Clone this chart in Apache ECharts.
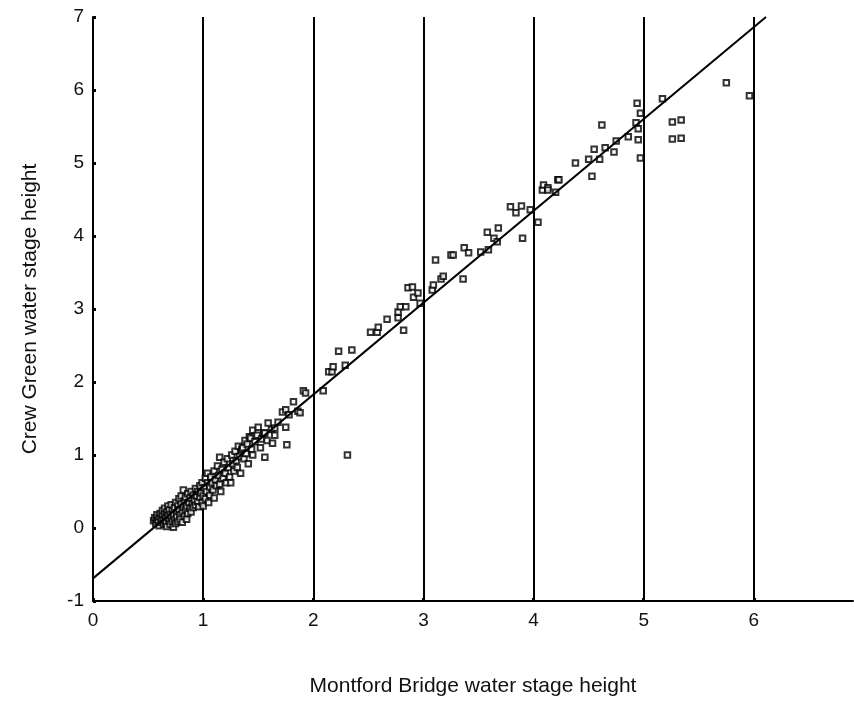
<!DOCTYPE html>
<html>
<head>
<meta charset="utf-8">
<script src="https://cdn.jsdelivr.net/npm/echarts@6/dist/echarts.min.js"></script>
<style>
  html, body { margin: 0; padding: 0; background: #fff; }
  #chart { width: 854px; height: 707px; }
</style>
</head>
<body>
<div id="chart"></div>
<script>
// Montford Bridge (x) against Crew Green (y) stage heights
let montford = [
  0.55, 0.56, 0.57, 0.58, 0.58, 0.59, 0.60, 0.60, 0.61, 0.62, 0.62, 0.63, 0.63, 0.64, 0.64, 0.65, 0.65, 0.66, 0.66, 0.67,
  0.67, 0.68, 0.68, 0.69, 0.69, 0.70, 0.70, 0.71, 0.71, 0.72, 0.72, 0.73, 0.73, 0.74, 0.74, 0.75, 0.75, 0.76, 0.76, 0.77,
  0.77, 0.78, 0.78, 0.79, 0.79, 0.80, 0.80, 0.81, 0.81, 0.82, 0.82, 0.83, 0.83, 0.84, 0.84, 0.85, 0.85, 0.86, 0.86, 0.87,
  0.88, 0.88, 0.89, 0.89, 0.90, 0.91, 0.91, 0.92, 0.93, 0.93, 0.94, 0.95, 0.95, 0.96, 0.97, 0.97, 0.98, 0.99, 0.99, 1.00,
  1.00, 1.01, 1.02, 1.02, 1.03, 1.04, 1.04, 1.05, 1.06, 1.06,
  1.07, 1.08, 1.09, 1.10, 1.10, 1.11, 1.12, 1.13, 1.14, 1.15, 1.15, 1.16, 1.17, 1.18, 1.19, 1.20, 1.21, 1.22, 1.23, 1.24,
  1.25, 1.26, 1.27, 1.28, 1.29, 1.30, 1.31, 1.32, 1.33, 1.34, 1.35, 1.36, 1.37, 1.38, 1.39, 1.40, 1.41, 1.42, 1.43, 1.44,
  1.45, 1.45, 1.47, 1.49, 1.50, 1.52, 1.53, 1.55, 1.56, 1.56, 1.58, 1.59, 1.62, 1.63, 1.65, 1.65, 1.68, 1.72, 1.75, 1.75,
  1.76, 1.78, 1.82, 1.86, 1.88, 1.91, 1.93, 2.09, 2.14, 2.17, 2.18, 2.23, 2.29, 2.31, 2.35, 2.52, 2.58, 2.59, 2.67, 2.77,
  2.77, 2.79, 2.82, 2.84, 2.86, 2.90, 2.91, 2.95, 2.97, 3.08, 3.09, 3.11, 3.16, 3.18, 3.25, 3.27, 3.36, 3.37, 3.41, 3.52,
  3.58, 3.59, 3.64, 3.67, 3.68, 3.79, 3.84, 3.89, 3.90, 3.97, 4.04, 4.08, 4.09, 4.13, 4.13, 4.20, 4.22, 4.23, 4.38, 4.50,
  4.53, 4.55, 4.60, 4.62, 4.65, 4.73, 4.75, 4.86, 4.93, 4.94, 4.95, 4.95, 4.97, 4.97, 5.17, 5.26, 5.34, 5.26, 5.34, 5.75,
  5.96
];
let crewGreen = [
  0.10, 0.14, 0.06, 0.12, 0.18, 0.09, 0.03, 0.15, 0.20, 0.08, 0.13, 0.17, 0.24, 0.05, 0.11, 0.19, 0.27, 0.08, 0.14, 0.22,
  0.02, 0.17, 0.30, 0.10, 0.25, 0.05, 0.19, 0.14, 0.32, 0.09, 0.24, 0.01, 0.18, 0.28, 0.12, 0.35, 0.06, 0.21, 0.15, 0.30,
  0.09, 0.25, 0.40, 0.18, 0.12, 0.33, 0.44, 0.22, 0.08, 0.28, 0.52, 0.37, 0.16, 0.42, 0.25, 0.30, 0.12, 0.47, 0.20, 0.35,
  0.27, 0.41, 0.50, 0.22, 0.33, 0.45, 0.28, 0.38, 0.54, 0.31, 0.44, 0.36, 0.50, 0.29, 0.42, 0.58, 0.48, 0.35, 0.62, 0.44,
  0.30, 0.55, 0.68, 0.40, 0.50, 0.62, 0.75, 0.35, 0.56, 0.45,
  0.70, 0.62, 0.52, 0.78, 0.41, 0.66, 0.58, 0.85, 0.72, 0.60, 0.97, 0.50, 0.80, 0.68, 0.90, 0.75, 0.62, 0.95, 0.83, 0.70,
  0.62, 1.00, 0.88, 0.78, 1.05, 0.92, 0.83, 1.12, 0.98, 0.75, 1.08, 1.10, 0.95, 1.20, 1.02, 1.15, 0.88, 1.25, 1.23, 1.08,
  1.34, 1.00, 1.18, 1.27, 1.38, 1.10, 1.22, 1.30, 0.97, 1.30, 1.20, 1.44, 1.35, 1.16, 1.37, 1.27, 1.45, 1.59, 1.62, 1.38,
  1.14, 1.55, 1.73, 1.60, 1.58, 1.88, 1.85, 1.88, 2.14, 2.14, 2.21, 2.42, 2.23, 1.00, 2.44, 2.68, 2.68, 2.75, 2.86, 2.88,
  2.96, 3.03, 2.71, 3.03, 3.29, 3.30, 3.16, 3.22, 3.08, 3.26, 3.33, 3.67, 3.41, 3.45, 3.74, 3.74, 3.41, 3.84, 3.77, 3.78,
  4.05, 3.81, 3.97, 3.92, 4.11, 4.40, 4.32, 4.41, 3.97, 4.36, 4.19, 4.63, 4.70, 4.66, 4.63, 4.60, 4.77, 4.77, 5.00, 5.05,
  4.82, 5.19, 5.05, 5.52, 5.21, 5.15, 5.30, 5.36, 5.55, 5.82, 5.47, 5.32, 5.68, 5.07, 5.88, 5.56, 5.59, 5.33, 5.34, 6.10,
  5.92
];
// fitted straight line, its two ends
let fitX = [0, 6.11];
let fitY = [-0.69, 7];

let xTicks = ["0", "1", "2", "3", "4", "5", "6"];
let yTicks = ["-1", "0", "1", "2", "3", "4", "5", "6", "7"];

let points = montford.map((x, i) => [x, crewGreen[i]]);
let fit = fitX.map((x, i) => [x, fitY[i]]);

let myChart = echarts.init(document.getElementById("chart"));
let font = "Liberation Sans, Arial, sans-serif";
let option = {
  animation: false,
  backgroundColor: "#fff",
  grid: { left: 93, right: 1, top: 17, bottom: 106, containLabel: false },
  xAxis: {
    type: "value",
    min: 0,
    max: 6.9,
    interval: 1,
    name: "Montford Bridge water stage height",
    nameLocation: "middle",
    nameGap: 75,
    nameTextStyle: { fontFamily: font, fontSize: 21, color: "#111" },
    axisLine: { show: true, onZero: false, lineStyle: { color: "#000", width: 2 } },
    axisTick: { show: true, inside: true, length: 3, lineStyle: { color: "#000", width: 3 } },
    axisLabel: {
      fontFamily: font, fontSize: 19, color: "#111", margin: 10, showMaxLabel: false,
      formatter: v => xTicks.includes(String(v)) ? String(v) : ""
    },
    splitLine: { show: true, showMinLine: false, showMaxLine: false, lineStyle: { color: "#000", width: 2, type: "solid" } }
  },
  yAxis: {
    type: "value",
    min: -1,
    max: 7,
    interval: 1,
    name: "Crew Green water stage height",
    nameLocation: "middle",
    nameGap: 52,
    nameTextStyle: { fontFamily: font, fontSize: 21, color: "#111" },
    axisLine: { show: true, onZero: false, lineStyle: { color: "#000", width: 2 } },
    axisTick: { show: true, inside: true, length: 3, lineStyle: { color: "#000", width: 3 } },
    axisLabel: {
      fontFamily: font, fontSize: 19, color: "#111", margin: 9,
      formatter: v => yTicks.includes(String(v)) ? String(v) : ""
    },
    splitLine: { show: false }
  },
  series: [
    {
      type: "scatter",
      name: "observations",
      data: points,
      symbol: "emptyRect",
      symbolSize: 5.5,
      itemStyle: { color: "#000", borderColor: "#000", borderWidth: 1.3 },
      z: 3
    },
    {
      type: "line",
      name: "fit",
      data: fit,
      showSymbol: false,
      lineStyle: { color: "#000", width: 2 },
      z: 4
    }
  ]
};
myChart.setOption(option);
</script>
</body>
</html>
